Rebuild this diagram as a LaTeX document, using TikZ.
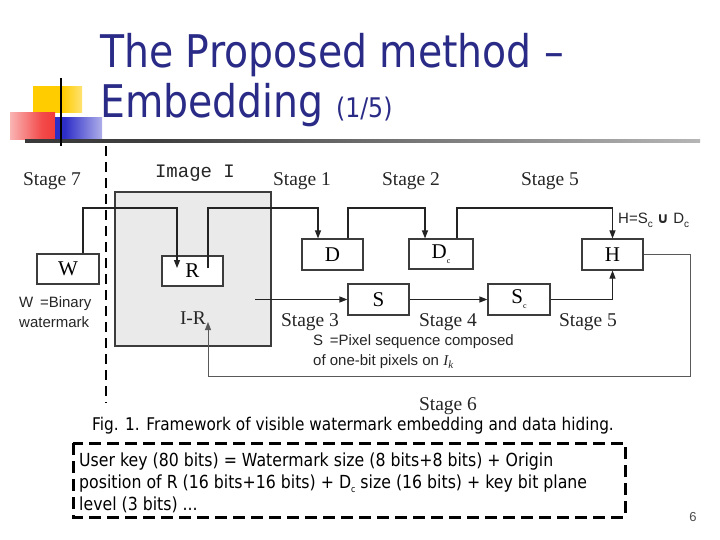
\documentclass[tikz,border=0pt]{standalone}
\usepackage{fontspec}
\setmainfont{Liberation Serif}
\newfontfamily\tah[FakeStretch=0.875]{DejaVu Sans}
\newfontfamily\arl{Liberation Sans}
\newfontfamily\cour{Liberation Mono}
\newfontfamily\dvs{DejaVu Sans}
\usetikzlibrary{arrows.meta}
\definecolor{titleblue}{RGB}{42,42,135}
\definecolor{linecol}{RGB}{35,35,35}
\definecolor{boxcol}{RGB}{60,60,60}
\definecolor{imgfill}{RGB}{234,234,234}
\definecolor{yel}{RGB}{255,204,0}
\definecolor{redd}{RGB}{240,30,30}
\definecolor{blu}{RGB}{45,45,200}
\pgfdeclarehorizontalshading{hlinefade}{100bp}{color(0bp)=(black!85); color(35bp)=(black!75); color(100bp)=(white)}
\pgfdeclarehorizontalshading{yfade}{100bp}{color(0bp)=(yel); color(55bp)=(yel); color(100bp)=(white)}
\pgfdeclarehorizontalshading{rfade}{100bp}{color(0bp)=(white); color(60bp)=(redd!80); color(100bp)=(redd)}
\pgfdeclarehorizontalshading{bfade}{100bp}{color(0bp)=(blu); color(35bp)=(blu); color(100bp)=(white)}
\begin{document}
\begin{tikzpicture}[x=1pt,y=-1pt,
  box/.style={draw=boxcol, line width=1.1pt, fill=white, inner sep=0pt,
    font=\fontsize{21}{21}\selectfont},
  arr/.style={draw=linecol, line width=1.1pt, -{Triangle[length=8pt,width=6pt]}},
  stagelbl/.style={anchor=base, inner sep=0pt, text=black!85, font=\fontsize{19.5}{20}\selectfont},
  small/.style={inner sep=0pt, text=black!85, font=\arl\fontsize{15}{19.5}\selectfont},
]
\useasboundingbox (0,0) rectangle (720,540);
\fill[white] (0,0) rectangle (720,540);

% decoration
\shade[shading=yfade] (33,87) rectangle (82,113);
\shade[shading=rfade] (10,113) rectangle (55,140);
\shade[shading=bfade] (55,118) rectangle (102,141);
\shade[shading=hlinefade] (25,139.5) rectangle (700,142.5);
\draw[black, line width=2pt] (61,78) -- (61,146);

% title
\node[anchor=base west, inner sep=0pt, text=titleblue, font=\tah\fontsize{45}{50}\selectfont] (t1) at (100,68) {The Proposed method –};
\node[anchor=base west, inner sep=0pt, text=titleblue, font=\tah\fontsize{45}{50}\selectfont] (t2) at (100,118) {Embedding {\fontsize{27}{30}\selectfont (1/5)}};

% dashed separator
\draw[black, line width=2.5pt, dash pattern=on 10pt off 6pt] (106,146) -- (106,403);

% image box
\draw[draw=boxcol, line width=1.1pt, fill=imgfill] (115,192) rectangle (271,346);

% stage labels
\node[stagelbl] (s7) at (52,186) {Stage 7};
\node[stagelbl, font=\cour\fontsize{19}{20}\selectfont] (img) at (195,178) {Image I};
\node[stagelbl] (s1) at (302,186) {Stage 1};
\node[stagelbl] (s2) at (411,186) {Stage 2};
\node[stagelbl] (s5a) at (550,186) {Stage 5};
\node[stagelbl] (s3) at (310,326) {Stage 3};
\node[stagelbl] (s4) at (448,326) {Stage 4};
\node[stagelbl] (s5b) at (588,326) {Stage 5};
\node[stagelbl] (s6) at (448,410) {Stage 6};
\node[stagelbl] (ir) at (193,324) {I-R};

% boxes
\node[box, minimum width=62pt, minimum height=30pt] (W) at (68,269) {W};
\node[box, minimum width=61pt, minimum height=30pt] (R) at (192.5,271) {R};
\node[box, minimum width=61pt, minimum height=31pt] (D) at (332.5,254.5) {D};
\node[box, minimum width=64pt, minimum height=30pt] (Dc) at (441,254) {D\raisebox{-5pt}{\fontsize{8}{8}\selectfont c}};
\node[box, minimum width=61pt, minimum height=31pt] (H) at (612.5,254.5) {H};
\node[box, minimum width=61pt, minimum height=31pt] (S) at (378.5,299.5) {S};
\node[box, minimum width=62pt, minimum height=31pt] (Sc) at (519,299.5) {S\raisebox{-5pt}{\fontsize{8}{8}\selectfont c}};

% helper coordinates
\coordinate (lvl) at (0,208);
\coordinate (rA) at (177,268);
\coordinate (rB) at (208,268);
\coordinate (Wt) at ([xshift=15pt]W.north);
\coordinate (Dt) at ([xshift=-14.5pt]D.north);
\coordinate (Dt2) at ([xshift=15.5pt]D.north);
\coordinate (Dct) at ([xshift=-16pt]Dc.north);
\coordinate (Dct2) at ([xshift=16pt]Dc.north);
\coordinate (imgOut) at (255,299.5);
\coordinate (loopC) at (690,376);
\coordinate (irIn) at (208,322);

% connectors
\draw[arr] (Wt) |- (rA |- lvl) -- (rA);
\draw[arr] (rB) |- (Dt |- lvl) -- (Dt);
\draw[arr] (Dt2) |- (Dct |- lvl) -- (Dct);
\draw[arr] (Dct2) |- (H.north |- lvl) -- (H.north);
\draw[arr] (imgOut) -- (S.west);
\draw[arr] (S.east) -- (Sc.west);
\draw[arr] (Sc.east) -| (H.south);
\draw[draw=black!65, line width=0.9pt, -{Triangle[length=8pt,width=6pt]}] (H.east) -| (loopC) -| (irIn);

% annotations
\node[small, anchor=base west] (hlab) at (618,224) {H=S\raisebox{-3pt}{\fontsize{10}{10}\selectfont c} {\dvs\bfseries ∪} D\raisebox{-3pt}{\fontsize{10}{10}\selectfont c}};
\node[small, anchor=base west, align=left] (wlab) at (19,327) {W \,=Binary\\watermark};
\node[small, anchor=base west, align=left] (slab) at (313,365) {S \,=Pixel sequence composed\\of one-bit pixels on {\rmfamily\itshape I\raisebox{-3pt}{\fontsize{11}{11}\selectfont k}}};

% caption
\node[anchor=base, inner sep=0pt, text=black, font=\tah\fontsize{17.5}{20}\selectfont] (cap) at (353,430) {Fig. 1. Framework of visible watermark embedding and data hiding.};

% user key box
\draw[black, line width=3pt, dash pattern=on 12pt off 6pt] (73,443) rectangle (625,517);
\node[anchor=base west, inner sep=0pt, align=left, text=black, font=\tah\fontsize{18}{22}\selectfont] (key) at (79,510)
  {User key (80 bits) = Watermark size (8 bits+8 bits) + Origin\\position of R (16 bits+16 bits) + D\raisebox{-4pt}{\fontsize{9}{9}\selectfont c} size (16 bits) + key bit plane\\level (3 bits) ...};

% page number
\node[anchor=base, inner sep=0pt, text=black!70, font=\arl\fontsize{13}{13}\selectfont] (pg) at (693,521) {6};
\end{tikzpicture}
\end{document}
